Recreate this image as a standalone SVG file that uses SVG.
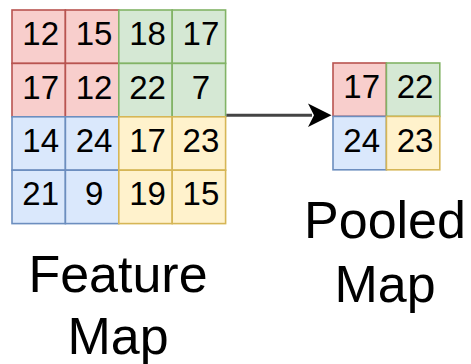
<svg xmlns="http://www.w3.org/2000/svg" width="471" height="364" viewBox="0 0 471 364">
<style>
.c{stroke-width:1.6}
.r{fill:#f8cecc;stroke:#b85450}
.g{fill:#d5e8d4;stroke:#82b366}
.b{fill:#dae8fc;stroke:#6c8ebf}
.y{fill:#fff2cc;stroke:#d6b656}
.n{font-family:"Liberation Sans",Arial,sans-serif;font-size:33px;fill:#000;text-anchor:middle}
.l{font-family:"Liberation Sans",Arial,sans-serif;font-size:52px;fill:#000;text-anchor:middle}
</style>
<rect width="471" height="364" fill="#fff"/>
<g id="feature-map">
<g id="f11"><rect class="c r" x="12" y="10" width="53.4" height="53.4"/><text class="n" x="40.7" y="45.2">12</text></g>
<g id="f12"><rect class="c r" x="65.4" y="10" width="53.4" height="53.4"/><text class="n" x="94.1" y="45.2">15</text></g>
<g id="f21"><rect class="c r" x="12" y="63.4" width="53.4" height="53.4"/><text class="n" x="40.7" y="98.6">17</text></g>
<g id="f22"><rect class="c r" x="65.4" y="63.4" width="53.4" height="53.4"/><text class="n" x="94.1" y="98.6">12</text></g>
<g id="f13"><rect class="c g" x="118.8" y="10" width="53.4" height="53.4"/><text class="n" x="147.5" y="45.2">18</text></g>
<g id="f14"><rect class="c g" x="172.2" y="10" width="53.4" height="53.4"/><text class="n" x="200.9" y="45.2">17</text></g>
<g id="f23"><rect class="c g" x="118.8" y="63.4" width="53.4" height="53.4"/><text class="n" x="147.5" y="98.6">22</text></g>
<g id="f24"><rect class="c g" x="172.2" y="63.4" width="53.4" height="53.4"/><text class="n" x="200.9" y="98.6">7</text></g>
<g id="f31"><rect class="c b" x="12" y="116.8" width="53.4" height="53.4"/><text class="n" x="40.7" y="152">14</text></g>
<g id="f32"><rect class="c b" x="65.4" y="116.8" width="53.4" height="53.4"/><text class="n" x="94.1" y="152">24</text></g>
<g id="f41"><rect class="c b" x="12" y="170.2" width="53.4" height="53.4"/><text class="n" x="40.7" y="205.4">21</text></g>
<g id="f42"><rect class="c b" x="65.4" y="170.2" width="53.4" height="53.4"/><text class="n" x="94.1" y="205.4">9</text></g>
<g id="f33"><rect class="c y" x="118.8" y="116.8" width="53.4" height="53.4"/><text class="n" x="147.5" y="152">17</text></g>
<g id="f34"><rect class="c y" x="172.2" y="116.8" width="53.4" height="53.4"/><text class="n" x="200.9" y="152">23</text></g>
<g id="f43"><rect class="c y" x="118.8" y="170.2" width="53.4" height="53.4"/><text class="n" x="147.5" y="205.4">19</text></g>
<g id="f44"><rect class="c y" x="172.2" y="170.2" width="53.4" height="53.4"/><text class="n" x="200.9" y="205.4">15</text></g>
</g>
<g id="pooled-map">
<g id="p11"><rect class="c r" x="333" y="63" width="53.4" height="53.4"/><text class="n" x="361.7" y="98.2">17</text></g>
<g id="p12"><rect class="c g" x="386.4" y="63" width="53.4" height="53.4"/><text class="n" x="415.1" y="98.2">22</text></g>
<g id="p21"><rect class="c b" x="333" y="116.4" width="53.4" height="53.4"/><text class="n" x="361.7" y="151.6">24</text></g>
<g id="p22"><rect class="c y" x="386.4" y="116.4" width="53.4" height="53.4"/><text class="n" x="415.1" y="151.6">23</text></g>
</g>
<g id="label-feature"><text class="l" x="118" y="292">Feature</text><text class="l" x="118" y="354">Map</text></g>
<g id="label-pooled"><text class="l" x="385" y="238">Pooled</text><text class="l" x="385" y="302">Map</text></g>
<g id="connectors">
<line x1="226.4" y1="115.3" x2="312" y2="115.3" stroke="#444" stroke-width="3"/>
<path d="M331.5,115.3 L308,103.5 L314,115.3 L308,127 Z" fill="#000"/>
</g>
</svg>
